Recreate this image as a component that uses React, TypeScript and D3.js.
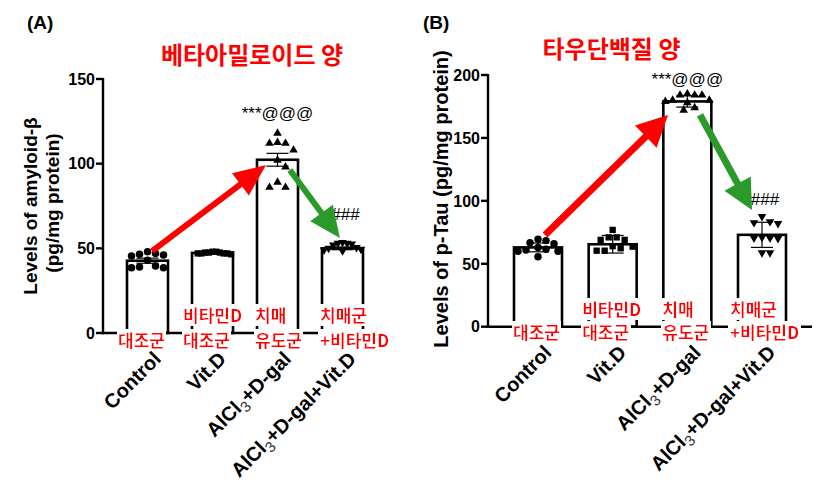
import React from "react";
import * as d3 from "d3";

// ---------- data ----------
const categories = ["Control", "Vit.D", "AlCl3+D-gal", "AlCl3+D-gal+Vit.D"];
const koreanLine1 = ["", "비타민D", "치매", "치매군"];
const koreanLine2 = ["대조군", "대조군", "유도군", "+비타민D"];

const amyloidTitle = "베타아밀로이드 양";
const amyloidAxisLines = ["Levels of amyloid-β", "(pg/mg protein)"];
const amyloidTicks = [0, 50, 100, 150];
const amyloidMeans = [42.7, 47.3, 102.3, 50.0];
const amyloidErrors = [1.5, 0.5, 3.8, 0.8];
const amyloidControl = [48, 46, 47, 46.5, 45.5, 43, 38.5, 39, 38.5, 39.5];
const amyloidVitD = [47.5, 47, 48, 47, 47.5, 46.5, 47, 47.5, 48, 47];
const amyloidAlcl = [118, 112, 112.5, 112, 108, 102, 98, 86, 89, 86];
const amyloidAlclVitD = [53.5, 53, 53, 52.5, 52, 50.5, 50, 49.5, 49, 48.5];
const amyloidSig = ["***@@@", "###"];

const tauTitle = "타우단백질 양";
const tauAxisLines = ["Levels of p-Tau (pg/mg protein)"];
const tauTicks = [0, 50, 100, 150, 200];
const tauMeans = [63, 65.5, 179, 73];
const tauErrors = [3.5, 7, 4.5, 10];
const tauControl = [61.5, 66.8, 68.4, 66, 69.5, 63, 55.6, 60, 61, 60];
const tauVitD = [76.9, 69, 69, 71, 71, 60.4, 63.6, 62.3, 64, 60.4];
const tauAlcl = [184, 185, 184, 184, 180, 180, 179, 178, 172, 174];
const tauAlclVitD = [87.5, 82, 82.7, 83.5, 70.5, 70, 70.5, 58.8, 58.8, 71];
const tauSig = ["***@@@", "###"];

// ---------- layout ----------
type Panel = {
  tag: string;
  tagX: number;
  title: string;
  titleX: number;
  titleY: number;
  axisLines: string[];
  axisLineX: number[];
  axisLineY: number[];
  axisFont: number;
  ticks: number[];
  means: number[];
  errors: number[];
  points: number[][];
  sig: string[];
  left: number;
  bottom: number;
  top: number;
  right: number;
  c0: number;
  c1: number;
  bw: number;
  capW: number;
  ko1Y: number;
  ko2Y: number;
  koOffset: number[];
  arrows: { from: [number, number]; to: [number, number]; color: string; sw: number; hl: number; hw: number }[];
  sigY: [number, number];
};

const RED = "#ff0000";
const GREEN = "#2a9a2a";

const panels: Panel[] = [
  {
    tag: "(A)",
    tagX: 27,
    title: amyloidTitle,
    titleX: 252,
    titleY: 64,
    axisLines: amyloidAxisLines,
    axisLineX: [37, 59],
    axisLineY: [206, 203],
    axisFont: 19,
    ticks: amyloidTicks,
    means: amyloidMeans,
    errors: amyloidErrors,
    points: [amyloidControl, amyloidVitD, amyloidAlcl, amyloidAlclVitD],
    sig: amyloidSig,
    left: 103,
    bottom: 333,
    top: 79,
    right: 385,
    c0: 147.5,
    c1: 342.5,
    bw: 41,
    capW: 22,
    ko1Y: 322,
    ko2Y: 347,
    koOffset: [-29.5, -29.5, -22.5, -22.5],
    arrows: [
      { from: [0.07, 48.4], to: [1.823, 99.2], color: RED, sw: 6, hl: 32, hw: 28 },
      { from: [2.19, 96.3], to: [2.96, 56.1], color: GREEN, sw: 6, hl: 31, hw: 28 },
    ],
    sigY: [119, 220],
  },
  {
    tag: "(B)",
    tagX: 423,
    title: tauTitle,
    titleX: 611.5,
    titleY: 58,
    axisLines: tauAxisLines,
    axisLineX: [448],
    axisLineY: [199],
    axisFont: 20,
    ticks: tauTicks,
    means: tauMeans,
    errors: tauErrors,
    points: [tauControl, tauVitD, tauAlcl, tauAlclVitD],
    sig: tauSig,
    left: 488,
    bottom: 326.7,
    top: 75,
    right: 812,
    c0: 538,
    c1: 762,
    bw: 48,
    capW: 22,
    ko1Y: 316,
    ko2Y: 339,
    koOffset: [-25, -30.5, -25, -32],
    arrows: [
      { from: [0.094, 72.9], to: [1.741, 168.3], color: RED, sw: 7, hl: 31, hw: 31 },
      { from: [2.17, 168.3], to: [2.866, 92.8], color: GREEN, sw: 7, hl: 30, hw: 30 },
    ],
    sigY: [85, 205],
  },
];

const symbols = [
  d3.symbol().type(d3.symbolCircle).size(44)(),
  d3.symbol().type(d3.symbolSquare).size(40)(),
  d3.symbol().type(d3.symbolTriangle).size(32)(),
  d3.symbol().type(d3.symbolTriangle).size(32)(),
];
const symbolRotate = [0, 0, 0, 180];

function swarm(values: number[], y: (v: number) => number, cx: number, d: number, maxSpread: number) {
  const order = values.map((_, i) => i).sort((a, b) => values[b] - values[a]);
  const placed: { x: number; y: number }[] = [];
  const res: { off: number; y: number }[] = new Array(values.length);
  for (const i of order) {
    const py = y(values[i]);
    let k = 0;
    let off = 0;
    while (k < 200) {
      off = k === 0 ? 0 : (k % 2 === 1 ? 1 : -1) * Math.ceil(k / 2) * (d / 2);
      const o = off;
      if (placed.every((p) => Math.hypot(p.x - o, p.y - py) >= d)) break;
      k++;
    }
    placed.push({ x: off, y: py });
    res[i] = { off, y: py };
  }
  const maxOff = d3.max(res, (r) => Math.abs(r.off)) || 1;
  const f = maxOff > maxSpread ? maxSpread / maxOff : 1;
  return res.map((r) => ({ x: cx + r.off * f, y: r.y }));
}

function arrowPoints(x1: number, y1: number, x2: number, y2: number, sw: number, hl: number, hw: number) {
  const dx = x2 - x1, dy = y2 - y1;
  const L = Math.hypot(dx, dy);
  const ux = dx / L, uy = dy / L;
  const nx = -uy, ny = ux;
  const bx = x2 - ux * hl, by = y2 - uy * hl;
  const pts = [
    [x1 + (nx * sw) / 2, y1 + (ny * sw) / 2],
    [bx + (nx * sw) / 2, by + (ny * sw) / 2],
    [bx + (nx * hw) / 2, by + (ny * hw) / 2],
    [x2, y2],
    [bx - (nx * hw) / 2, by - (ny * hw) / 2],
    [bx - (nx * sw) / 2, by - (ny * sw) / 2],
    [x1 - (nx * sw) / 2, y1 - (ny * sw) / 2],
  ];
  return pts.map((p) => p.join(",")).join(" ");
}

const EN = "'Liberation Sans', Arial, sans-serif";
const KO = "'Noto Sans CJK KR', 'Noto Sans', sans-serif";

function CatLabel({ label }: { label: string }) {
  const idx = label.indexOf("AlCl3");
  if (idx < 0) return <tspan dy={14.4}>{label}</tspan>;
  const rest = label.slice(idx + 5);
  return (
    <>
      <tspan dy={14.4}>AlCl</tspan>
      <tspan dy={5} fontWeight="normal" fontSize={15} fill="#333">3</tspan>
      <tspan dy={-5}>{rest}</tspan>
    </>
  );
}

function PanelView({ p }: { p: Panel }) {
  const maxV = p.ticks[p.ticks.length - 1];
  const y = d3.scaleLinear().domain([0, maxV]).range([p.bottom, p.top]);
  const x = d3.scalePoint<string>().domain(categories).range([p.c0, p.c1]);
  const xi = d3.scaleLinear().domain([0, categories.length - 1]).range([p.c0, p.c1]);

  return (
    <g>
      <text x={p.tagX} y={29} fontFamily={EN} fontWeight="bold" fontSize={19} fill="#000">{p.tag}</text>
      <text x={p.titleX} y={p.titleY} textAnchor="middle" fontFamily={KO} fontWeight={700} fontSize={24} fill={RED}>{p.title}</text>

      {p.axisLines.map((t, i) => (
        <text key={i} transform={`translate(${p.axisLineX[i]},${p.axisLineY[i]}) rotate(-90)`} textAnchor="middle"
          fontFamily={EN} fontWeight="bold" fontSize={p.axisFont} fill="#000">{t}</text>
      ))}

      {/* bars */}
      {categories.map((c, i) => (
        <rect key={c} x={(x(c) as number) - p.bw / 2} y={y(p.means[i])} width={p.bw} height={y(0) - y(p.means[i])}
          fill="#fff" stroke="#000" strokeWidth={2.6} />
      ))}

      {/* points */}
      {categories.map((c, i) =>
        swarm(p.points[i], y, x(c) as number, 8, p.bw / 2 - 2).map((pt, j) => (
          <path key={c + j} d={symbols[i] as string} transform={`translate(${pt.x},${pt.y}) rotate(${symbolRotate[i]})`} fill="#000" />
        ))
      )}

      {/* error bars */}
      {categories.map((c, i) => {
        const cx = x(c) as number;
        const hi = y(p.means[i] + p.errors[i]);
        const lo = y(p.means[i] - p.errors[i]);
        return (
          <g key={c} stroke="#000" strokeWidth={1.2}>
            <line x1={cx} x2={cx} y1={hi} y2={lo} />
            <line x1={cx - p.capW / 2} x2={cx + p.capW / 2} y1={hi} y2={hi} />
            <line x1={cx - p.capW / 2} x2={cx + p.capW / 2} y1={lo} y2={lo} />
          </g>
        );
      })}

      {/* axes */}
      <g stroke="#000" strokeWidth={2.4}>
        <line x1={p.left} x2={p.left} y1={y(maxV) - 1} y2={y(0) + 1.2} />
        <line x1={p.left - 1.2} x2={p.right} y1={y(0)} y2={y(0)} />
        {p.ticks.map((t) => (
          <line key={t} x1={p.left - 7} x2={p.left} y1={y(t)} y2={y(t)} />
        ))}
      </g>
      {p.ticks.map((t) => (
        <text key={t} x={p.left - 8} y={y(t)} dy="0.36em" textAnchor="end" fontFamily={EN} fontWeight="bold" fontSize={16} fill="#000">{t}</text>
      ))}

      {/* category labels */}
      {categories.map((c) => (
        <text key={c} transform={`translate(${(x(c) as number) + 4.5},${p.bottom + 17}) rotate(-45)`} textAnchor="end"
          fontFamily={EN} fontWeight="bold" fontSize={20} fill="#000">
          <CatLabel label={c} />
        </text>
      ))}

      {/* korean labels with white boxes */}
      {categories.map((c, i) => {
        const lx = (x(c) as number) + p.koOffset[i];
        return (
          <g key={c} fontFamily={KO} fontWeight={700} fontSize={17} fill={RED}>
            {koreanLine1[i] && <text x={lx} y={p.ko1Y} filter="url(#whitebg)">{koreanLine1[i]}</text>}
            <text x={lx} y={p.ko2Y} filter="url(#whitebg)">{koreanLine2[i]}</text>
          </g>
        );
      })}

      {/* significance */}
      <text x={x(categories[2])} y={p.sigY[0]} textAnchor="middle" fontFamily={EN} fontSize={17} fill="#000">{p.sig[0]}</text>
      <text x={(x(categories[3]) as number) + 3} y={p.sigY[1]} textAnchor="middle" fontFamily={EN} fontSize={17} fill="#000">{p.sig[1]}</text>

      {/* arrows */}
      {p.arrows.map((a, i) => (
        <polygon key={i} points={arrowPoints(xi(a.from[0]), y(a.from[1]), xi(a.to[0]), y(a.to[1]), a.sw, a.hl, a.hw)} fill={a.color} />
      ))}
    </g>
  );
}

export default function App() {
  return (
    <svg width={835} height={494} style={{ position: "absolute", left: 0, top: 0, background: "#fff" }}>
      <defs>
        <filter id="whitebg" x="-0.02" y="0.08" width="1.04" height="0.86">
          <feFlood floodColor="#fff" />
          <feComposite in="SourceGraphic" operator="over" />
        </filter>
      </defs>
      <rect width={835} height={494} fill="#fff" />
      {panels.map((p) => (
        <PanelView key={p.tag} p={p} />
      ))}
    </svg>
  );
}
